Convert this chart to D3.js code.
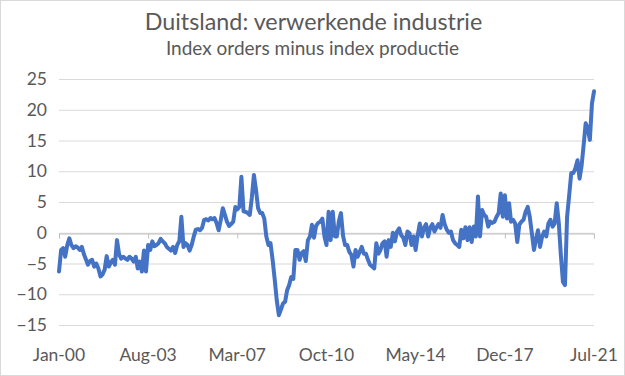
<!DOCTYPE html>
<html><head><meta charset="utf-8">
<script src="https://cdn.jsdelivr.net/npm/d3@7"></script>
<style>html,body{margin:0;padding:0;background:#fff;}svg{display:block;}</style>
</head><body>
<script>
const titleText = "Duitsland: verwerkende industrie";
const subtitleText = "Index orders minus index productie";
const startMonth = "2000-01";
const values = [
-6.3,-2.8,-2.5,-3.9,-2.0,-0.9,-2.0,-2.5,-2.2,-2.4,
-2.8,-2.3,-3.5,-4.4,-5.2,-4.6,-4.4,-5.5,-5.0,-5.8,
-7.1,-6.8,-6.0,-3.8,-5.5,-4.8,-4.4,-5.2,-1.2,-3.5,
-4.2,-3.9,-4.2,-4.4,-3.9,-4.2,-4.7,-3.9,-5.8,-4.7,
-6.3,-2.9,-6.3,-2.0,-2.8,-1.4,-2.2,-2.0,-1.7,-1.0,
-1.4,-1.7,-2.3,-2.6,-2.9,-2.3,-3.3,-2.0,-1.4,2.6,
-2.3,-1.7,-2.0,-2.9,-2.0,-0.6,0.5,0.6,0.4,0.8,
2.1,2.2,2.0,2.4,2.2,2.4,1.6,0.4,2.0,4.0,
2.9,1.8,1.1,1.4,1.8,4.2,3.8,4.2,9.1,3.5,
3.4,3.2,2.9,5.7,9.4,7.0,4.0,3.2,3.2,2.3,
-0.6,-2.0,-1.7,-4.4,-7.6,-11.0,-13.4,-12.5,-11.5,-11.2,
-9.4,-8.5,-7.2,-7.5,-2.8,-2.8,-4.4,-3.3,-3.0,-4.6,
-1.2,-0.6,1.3,-0.8,1.1,1.6,1.8,2.3,-0.6,-2.0,
3.4,-1.2,3.4,-0.6,-0.6,1.9,3.2,-0.5,-2.0,-2.0,
-3.1,-3.6,-5.5,-2.8,-3.9,-3.1,-2.3,-3.4,-3.4,-4.4,
-5.2,-5.5,-5.8,-1.7,-3.4,-2.8,-1.7,-1.4,-3.9,-1.2,
-2.3,0.0,-1.4,0.2,0.7,-0.4,-0.8,-2.0,0.2,-0.1,
-2.0,-0.6,-2.8,-0.4,1.5,-0.6,0.8,1.4,-0.6,0.8,
1.4,0.2,0.8,1.4,0.8,2.9,1.4,0.5,0.0,0.2,
-1.2,-1.7,-2.0,-2.3,0.5,-0.9,0.9,-1.2,0.9,-1.5,
1.0,-0.6,5.9,-0.6,3.7,2.9,2.6,1.0,1.8,1.6,
1.8,2.6,3.2,6.4,2.6,6.1,2.3,4.8,1.8,2.1,
1.5,-1.5,1.3,1.8,2.1,3.4,4.2,2.6,-0.1,-2.8,
-1.2,0.4,-2.3,-0.6,0.2,-0.6,1.5,2.1,1.0,1.5,
4.8,1.5,-3.5,-8.0,-8.5,2.6,6.0,9.7,9.7,10.5,
11.8,8.8,11.0,14.5,17.8,17.0,15.1,21.0,23.0
];
const yTicks = [25,20,15,10,5,0,-5,-10,-15];
const xTickLabels = ["Jan-00","Aug-03","Mar-07","Oct-10","May-14","Dec-17","Jul-21"];
const xTickStep = 43;

const W = 625, H = 376;
const font = "Lato, 'Open Sans', sans-serif";
const txt = "#595959";
const parse = d3.timeParse("%Y-%m");
const t0 = parse(startMonth);
const data = values.map((v,i)=>({date:d3.timeMonth.offset(t0,i), v}));
const tickDates = xTickLabels.map((l,i)=>d3.timeMonth.offset(t0,i*xTickStep));

const svg = d3.select("body").append("svg").attr("width",W).attr("height",H);
svg.append("rect").attr("x",0.5).attr("y",0.5).attr("width",W-1).attr("height",H-1)
  .attr("fill","#fff").attr("stroke","#d9d9d9");

const x = d3.scaleTime().domain([data[0].date, data[data.length-1].date]).range([59,594]);
const y = d3.scaleLinear().domain([-15,25]).range([325,79]);

svg.append("text").attr("x",W/2+1).attr("y",30).attr("text-anchor","middle")
  .attr("font-family",font).attr("font-size",23.3).attr("fill",txt).text(titleText);
svg.append("text").attr("x",W/2).attr("y",55).attr("text-anchor","middle")
  .attr("font-family",font).attr("font-size",19).attr("fill",txt).text(subtitleText);

// gridlines
svg.append("g").selectAll("line").data(yTicks).join("line")
  .attr("x1",59).attr("x2",594).attr("y1",d=>y(d)+0.5).attr("y2",d=>y(d)+0.5)
  .attr("stroke","#d9d9d9").attr("stroke-width",1);

// y labels
const yAxis = d3.axisLeft(y).tickValues(yTicks).tickSize(0).tickPadding(0);
const gy = svg.append("g").attr("transform","translate(47,0)").call(yAxis);
gy.select(".domain").remove();
gy.selectAll("text").attr("font-family",font).attr("font-size",17.5).attr("fill",txt);

// x axis at zero
const xAxis = d3.axisBottom(x).tickValues(tickDates).tickSize(5).tickFormat((d,i)=>"");
const gx = svg.append("g").attr("transform",`translate(0,${Math.round(y(0))+0.5})`).call(xAxis);
gx.select(".domain").attr("stroke","#bfbfbf");
gx.selectAll(".tick line").attr("stroke","#bfbfbf");

// x labels at bottom
svg.append("g").selectAll("text").data(tickDates).join("text")
  .attr("x",d=>x(d)).attr("y",361).attr("text-anchor","middle")
  .attr("font-family",font).attr("font-size",17.5).attr("fill",txt)
  .text((d,i)=>xTickLabels[i]);

const line = d3.line().x(d=>x(d.date)).y(d=>y(d.v)).curve(d3.curveLinear);
svg.append("path").datum(data).attr("d",line).attr("fill","none")
  .attr("stroke","#4472c4").attr("stroke-width",4)
  .attr("stroke-linejoin","round").attr("stroke-linecap","round");
</script>
</body></html>
